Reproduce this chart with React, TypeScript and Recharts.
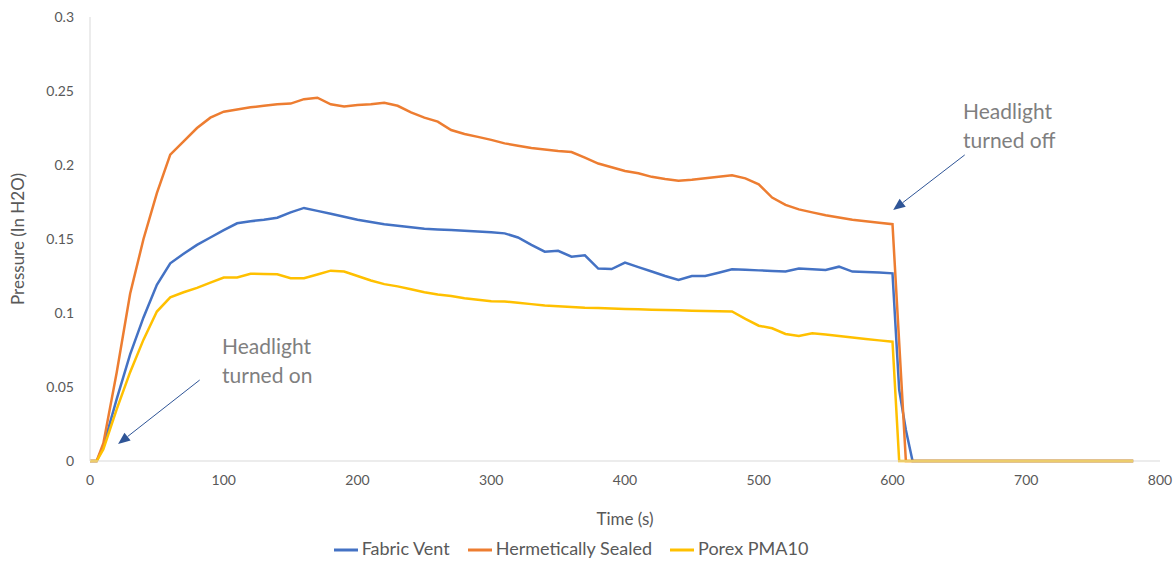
import React from 'react';
import { LineChart, Line, XAxis, YAxis, Legend, ReferenceLine } from 'recharts';

// time in seconds
const times = [
  0, 5, 10, 20, 30, 40, 50, 60, 70, 80, 90, 100, 110, 120, 130, 140, 150, 160, 170, 180, 190,
  200, 210, 220, 230, 240, 250, 260, 270, 280, 290, 300, 310, 320, 330, 340, 350, 360, 370, 380, 390,
  400, 410, 420, 430, 440, 450, 460, 470, 480, 490, 500, 510, 520, 530, 540, 550, 560, 570, 580, 590,
  600, 605, 610, 615, 620, 640, 660, 680, 700, 720, 740, 760, 780,
];

const fabricVent = [
  0, 0, 0.01, 0.042, 0.072, 0.097, 0.119, 0.1336, 0.14, 0.146, 0.151, 0.156, 0.1606, 0.162, 0.163, 0.1644, 0.168, 0.171, 0.169, 0.167, 0.165,
  0.163, 0.1615, 0.16, 0.159, 0.158, 0.157, 0.1565, 0.156, 0.1555, 0.155, 0.1545, 0.1538, 0.151, 0.146, 0.1414, 0.142, 0.138, 0.139, 0.13, 0.1297,
  0.134, 0.131, 0.128, 0.125, 0.1223, 0.125, 0.125, 0.1272, 0.1295, 0.1292, 0.1288, 0.1284, 0.128, 0.13, 0.1295, 0.129, 0.1313, 0.128, 0.1277, 0.1273,
  0.1268, 0.048, 0.021, 0, 0, 0, 0, 0, 0, 0, 0, 0, 0,
];

const hermeticallySealed = [
  0, 0, 0.012, 0.06, 0.113, 0.15, 0.181, 0.207, 0.216, 0.225, 0.232, 0.236, 0.2375, 0.239, 0.24, 0.241, 0.2415, 0.2445, 0.2455, 0.241, 0.2395,
  0.2405, 0.241, 0.242, 0.24, 0.2355, 0.232, 0.2293, 0.2236, 0.221, 0.219, 0.217, 0.2146, 0.213, 0.2115, 0.2105, 0.2095, 0.2088, 0.205, 0.201, 0.1985,
  0.196, 0.1944, 0.192, 0.1905, 0.1894, 0.19, 0.191, 0.192, 0.193, 0.191, 0.187, 0.178, 0.173, 0.17, 0.168, 0.166, 0.1645, 0.163, 0.162, 0.161,
  0.16, 0.08, 0, 0, 0, 0, 0, 0, 0, 0, 0, 0, 0,
];

const porexPMA10 = [
  0, 0, 0.008, 0.035, 0.06, 0.082, 0.101, 0.1106, 0.114, 0.117, 0.1205, 0.124, 0.124, 0.1265, 0.1264, 0.1262, 0.1235, 0.1235, 0.126, 0.1286, 0.128,
  0.125, 0.122, 0.1195, 0.118, 0.116, 0.114, 0.1125, 0.1115, 0.11, 0.109, 0.108, 0.1077, 0.107, 0.106, 0.105, 0.1045, 0.104, 0.1035, 0.1033, 0.103,
  0.1027, 0.1025, 0.1022, 0.102, 0.1018, 0.1016, 0.1014, 0.1012, 0.101, 0.096, 0.0914, 0.0897, 0.0858, 0.0845, 0.0863, 0.0855, 0.0845, 0.0835, 0.0825, 0.0815,
  0.0806, 0, 0, 0, 0, 0, 0, 0, 0, 0, 0, 0, 0,
];

const xTicks = [0, 100, 200, 300, 400, 500, 600, 700, 800];
const yTicks = [0, 0.05, 0.1, 0.15, 0.2, 0.25, 0.3];

const data = times.map((t, i) => ({
  t,
  fabric: fabricVent[i],
  sealed: hermeticallySealed[i],
  porex: porexPMA10[i],
}));

const FONT = 'Lato, "Open Sans", sans-serif';
const TEXT = '#595959';
const ANNO = '#7f7f7f';
const ARROW = '#2f5597';

const Arrow = (props: any) => {
  const { x1, y1, x2, y2 } = props;
  if ([x1, y1, x2, y2].some((v) => typeof v !== 'number' || isNaN(v))) return null;
  const ang = Math.atan2(y2 - y1, x2 - x1);
  const len = 12;
  const half = 5;
  const bx = x2 - len * Math.cos(ang);
  const by = y2 - len * Math.sin(ang);
  const px = -Math.sin(ang) * half;
  const py = Math.cos(ang) * half;
  return (
    <g>
      <line x1={x1} y1={y1} x2={bx} y2={by} stroke={ARROW} strokeWidth={1} />
      <polygon points={`${x2},${y2} ${bx + px},${by + py} ${bx - px},${by - py}`} fill={ARROW} />
    </g>
  );
};

export default function App() {
  return (
    <div style={{ position: 'absolute', left: 0, top: 0, width: 1175, height: 562, background: '#fff', fontFamily: FONT }}>
      <LineChart width={1175} height={562} data={data} margin={{ top: 17, right: 15, left: 0, bottom: 17 }}>
        <XAxis
          dataKey="t"
          type="number"
          domain={[0, 800]}
          ticks={xTicks}
          tickLine={false}
          tickSize={0}
          tickMargin={14}
          axisLine={{ stroke: '#d9d9d9', strokeWidth: 1 }}
          tick={{ fill: TEXT, fontSize: 14, fontFamily: FONT }}
          height={60}
          label={{ value: 'Time (s)', position: 'insideBottom', offset: -4, fill: TEXT, fontSize: 17, fontFamily: FONT }}
        />
        <YAxis
          type="number"
          domain={[0, 0.3]}
          ticks={yTicks}
          tickLine={false}
          tickSize={0}
          tickMargin={16}
          axisLine={{ stroke: '#d9d9d9', strokeWidth: 1 }}
          tick={{ fill: TEXT, fontSize: 14, fontFamily: FONT }}
          width={90}
          label={{ value: 'Pressure (In H2O)', angle: -90, position: 'insideLeft', offset: 18, fill: TEXT, fontSize: 17, fontFamily: FONT, style: { textAnchor: 'middle' } }}
        />
        <Legend
          verticalAlign="bottom"
          height={24}
          iconType="plainline"
          iconSize={24}
          wrapperStyle={{ fontFamily: FONT, fontSize: 18, color: TEXT, top: 537 }}
          formatter={(value: string) => <span style={{ color: TEXT, marginRight: 8 }}>{value}</span>}
        />
        <Line type="linear" dataKey="fabric" name="Fabric Vent" stroke="#4472c4" strokeWidth={2.5} dot={false} isAnimationActive={false} legendType="plainline" />
        <Line type="linear" dataKey="sealed" name="Hermetically Sealed" stroke="#ed7d31" strokeWidth={2.5} dot={false} isAnimationActive={false} legendType="plainline" />
        <Line type="linear" dataKey="porex" name="Porex PMA10" stroke="#ffc000" strokeWidth={2.5} dot={false} isAnimationActive={false} legendType="plainline" />
        <ReferenceLine segment={[{ x: 82, y: 0.0547 }, { x: 21, y: 0.0115 }]} shape={Arrow} ifOverflow="visible" />
        <ReferenceLine segment={[{ x: 654, y: 0.2068 }, { x: 600.5, y: 0.1696 }]} shape={Arrow} ifOverflow="visible" />
      </LineChart>
      <div style={{ position: 'absolute', left: 222, top: 331, color: ANNO, fontSize: 21, lineHeight: '29px', fontFamily: FONT }}>
        Headlight<br />turned on
      </div>
      <div style={{ position: 'absolute', left: 963, top: 96, color: ANNO, fontSize: 21, lineHeight: '29px', fontFamily: FONT }}>
        Headlight<br />turned off
      </div>
    </div>
  );
}
